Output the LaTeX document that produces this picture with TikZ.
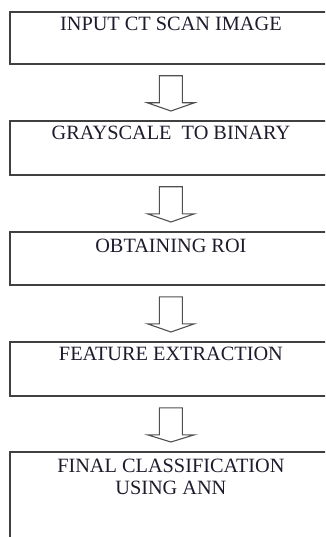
\documentclass[tikz,border=0pt]{standalone}
\usepackage{fontspec}
\setmainfont{Liberation Serif}
\usetikzlibrary{calc}
\definecolor{boxline}{RGB}{64,64,64}
\definecolor{arrline}{RGB}{80,80,80}
\definecolor{txt}{RGB}{28,28,45}
\tikzset{
  stepbox/.style={draw=boxline, line width=1.8pt, minimum width=322pt, inner sep=0pt, anchor=north west},
  steptext/.style={text=txt, inner sep=0pt, font=\fontsize{20.3}{22}\selectfont, align=center},
  blockarr/.style={draw=arrline, line width=1.1pt, line join=miter},
}
\newcommand\blockarrow[2]{%
  \draw[blockarr] ($(#1.south)+(-11.5,11)$) -- ($(#1.south)+(-11.5,38)$)
    -- ($(#1.south)+(-23.5,38)$) -- ($(#2.north)+(0,-9)$)
    -- ($(#1.south)+(23.5,38)$) -- ($(#1.south)+(11.5,38)$)
    -- ($(#1.south)+(11.5,11)$) -- cycle;}
\begin{document}
\begin{tikzpicture}[x=1pt,y=-1pt]
\useasboundingbox (0,0) rectangle (325,537);
\clip (0,0) rectangle (325,537);
\node[stepbox, minimum height=52pt] (b1) at (9,11) {};
\node[stepbox, minimum height=54pt] (b2) at (9,120) {};
\node[stepbox, minimum height=53pt] (b3) at (9,231) {};
\node[stepbox, minimum height=54pt] (b4) at (9,341) {};
\node[stepbox, minimum height=120pt] (b5) at (9,451) {};
\node[steptext, anchor=base] (t1) at ($(b1.north)+(0,20)$) {INPUT CT SCAN IMAGE};
\node[steptext, anchor=base] (t2) at ($(b2.north)+(0,20)$) {GRAYSCALE\ \ TO BINARY};
\node[steptext, anchor=base] (t3) at ($(b3.north)+(0,21)$) {OBTAINING ROI};
\node[steptext, anchor=base] (t4) at ($(b4.north)+(0,19)$) {FEATURE EXTRACTION};
\node[steptext, anchor=north] (t5) at ($(b5.north)+(0,7.6)$) {FINAL CLASSIFICATION\\USING ANN};
\blockarrow{b1}{b2}
\blockarrow{b2}{b3}
\blockarrow{b3}{b4}
\blockarrow{b4}{b5}
\end{tikzpicture}
\end{document}
